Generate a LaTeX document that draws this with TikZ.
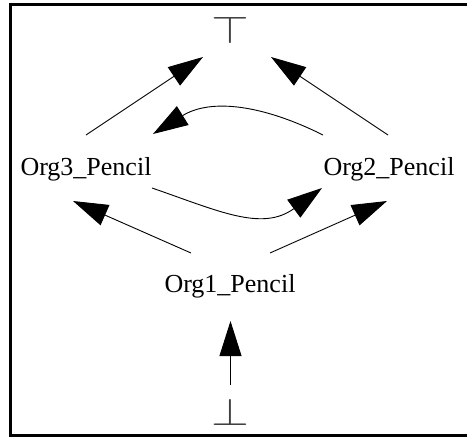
\documentclass[tikz,border=0pt]{standalone}
\usepackage{fontspec}
\setmainfont{Liberation Serif}
\usetikzlibrary{arrows.meta}
\begin{document}
\begin{tikzpicture}[x=1pt,y=-1pt,
  lbl/.style={font=\fontsize{26}{30}\selectfont, inner sep=0, anchor=base},
  sym/.style={inner sep=0, text=black!75},
  arr/.style={line width=0.9pt, -{Triangle[length=35pt,width=22pt]}}]
\useasboundingbox (0,0) rectangle (467,437);
\begin{scope}
\clip (0,0) rectangle (467,437);
\draw[line width=3pt] (10.5,4.5) rectangle (480,435.5);
\end{scope}
% nodes
\node[sym] (top) at (230.5,29.5) {\scalebox{4.86}[3.89]{$\top$}};
\node[sym] (bot) at (230.5,411.5) {\scalebox{4.86}[3.89]{$\bot$}};
\node[lbl] (org3) at (86,175.7) {Org3\_Pencil};
\node[lbl] (org2) at (389,175.7) {Org2\_Pencil};
\node[lbl] (org1) at (230,292.5) {Org1\_Pencil};
% connectors
\draw[arr] ([shift={(0,-40.7)}]org3.base) -- ([shift={(-27.5,27.5)}]top.center);
\draw[arr] ([shift={(-1,-40.7)}]org2.base) -- ([shift={(40.5,27.5)}]top.center);
\draw[arr] ([shift={(-66,-40.7)}]org2.base) .. controls (263,105) and (211,98) .. ([shift={(67,-41.7)}]org3.base);
\draw[arr] ([shift={(66,12.3)}]org3.base) .. controls (218,210.7) and (262,232) .. ([shift={(-67,12.3)}]org2.base);
\draw[arr] ([shift={(-39,-39.5)}]org1.base) -- ([shift={(-13,25.3)}]org3.base);
\draw[arr] ([shift={(40,-39.5)}]org1.base) -- ([shift={(-2,25.3)}]org2.base);
\draw[arr] ([shift={(0,-26.5)}]bot.center) -- ([shift={(0.5,28.5)}]org1.base);
\end{tikzpicture}
\end{document}
